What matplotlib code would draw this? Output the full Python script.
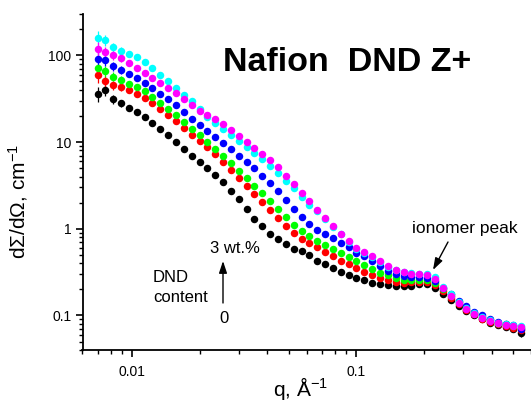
import matplotlib
matplotlib.use("Agg")
import matplotlib.pyplot as plt
from matplotlib.ticker import FixedLocator, FixedFormatter, NullFormatter, LogLocator
import numpy as np

plt.rcParams['font.family'] = ['Liberation Sans', 'DejaVu Sans']
plt.rcParams['mathtext.fontset'] = 'custom'
plt.rcParams['mathtext.rm'] = 'Liberation Sans'
plt.rcParams['mathtext.it'] = 'Liberation Sans'

# ---- data ----
q = [0.00700, 0.00759, 0.00822, 0.00891, 0.00966, 0.01047, 0.01135, 0.01230, 0.01334, 0.01445,
     0.01567, 0.01698, 0.01841, 0.01995, 0.02163, 0.02344, 0.02541, 0.02754, 0.02985, 0.03236,
     0.03508, 0.03802, 0.04121, 0.04467, 0.04842, 0.05248, 0.05689, 0.06166, 0.06683, 0.07244,
     0.07852, 0.08511, 0.09226, 0.1000, 0.1084, 0.1175, 0.1274, 0.1380, 0.1496, 0.1622,
     0.1758, 0.1905, 0.2065, 0.2239, 0.2427, 0.2630, 0.2851, 0.3090, 0.3350, 0.3631,
     0.3936, 0.4266, 0.4624, 0.5012, 0.5433]

I_0wt = [36, 40, 31, 28, 24.5, 22, 19.5, 16.8, 14.2, 12.0,
         10.0, 8.3, 7.0, 5.9, 5.0, 4.2, 3.5, 2.75, 2.2, 1.7,
         1.3, 1.07, 0.88, 0.76, 0.66, 0.58, 0.55, 0.50, 0.43, 0.39,
         0.35, 0.32, 0.29, 0.27, 0.255, 0.24, 0.23, 0.222, 0.218, 0.216,
         0.22, 0.228, 0.23, 0.21, 0.178, 0.15, 0.13, 0.113, 0.10, 0.09,
         0.082, 0.077, 0.073, 0.07, 0.062]

I_red = [60, 50, 45, 43, 40, 36, 32, 28, 24, 20.5,
         17.5, 14.5, 12.2, 10.3, 8.7, 7.2, 5.9, 4.8, 3.9, 3.1,
         2.55, 2.05, 1.65, 1.32, 1.08, 0.9, 0.77, 0.68, 0.61, 0.54,
         0.48, 0.43, 0.39, 0.35, 0.32, 0.295, 0.272, 0.257, 0.245, 0.24,
         0.242, 0.245, 0.243, 0.222, 0.19, 0.16, 0.135, 0.117, 0.103, 0.092,
         0.084, 0.079, 0.075, 0.072, 0.068]

I_green = [72, 66, 57, 52, 47, 43, 38.5, 33, 28, 24,
           20.5, 17, 14.3, 12.0, 10.0, 8.3, 6.9, 5.7, 4.7, 3.85,
           3.15, 2.6, 2.1, 1.7, 1.38, 1.12, 0.95, 0.82, 0.73, 0.65,
           0.58, 0.52, 0.47, 0.42, 0.38, 0.345, 0.31, 0.29, 0.27, 0.26,
           0.26, 0.26, 0.257, 0.235, 0.2, 0.168, 0.142, 0.123, 0.108, 0.097,
           0.089, 0.083, 0.079, 0.076, 0.072]

I_blue = [92, 88, 75, 68, 61, 55, 48, 42, 36, 31,
          27, 22, 18.5, 15.8, 13.5, 11.5, 9.8, 8.3, 7.0, 5.9,
          5.0, 4.1, 3.35, 2.7, 2.15, 1.7, 1.38, 1.15, 0.98, 0.86,
          0.78, 0.69, 0.61, 0.53, 0.48, 0.43, 0.37, 0.33, 0.30, 0.285,
          0.278, 0.276, 0.27, 0.25, 0.21, 0.175, 0.148, 0.127, 0.111, 0.10,
          0.091, 0.085, 0.08, 0.077, 0.07]

I_cyan = [160, 150, 125, 113, 104, 95, 84, 72, 60, 50,
          42, 35, 29.5, 24, 19.5, 16.5, 14.2, 12.0, 10.2, 8.7,
          7.4, 6.3, 5.3, 4.4, 3.6, 2.95, 2.3, 1.9, 1.6, 1.3,
          1.06, 0.86, 0.71, 0.59, 0.52, 0.47, 0.41, 0.365, 0.335, 0.315,
          0.31, 0.305, 0.30, 0.275, 0.215, 0.175, 0.145, 0.123, 0.108, 0.097,
          0.089, 0.083, 0.079, 0.077, 0.075]

I_magenta = [118, 110, 100, 93, 82, 72, 63, 55, 48, 42,
             36.5, 31, 26.5, 23, 20.5, 18.3, 16, 13.7, 11.8, 10.0,
             8.6, 7.3, 6.2, 5.1, 4.1, 3.3, 2.6, 2.1, 1.65, 1.33,
             1.08, 0.88, 0.72, 0.6, 0.54, 0.48, 0.42, 0.37, 0.335, 0.315,
             0.305, 0.30, 0.29, 0.262, 0.205, 0.168, 0.138, 0.118, 0.104, 0.094,
             0.086, 0.081, 0.077, 0.075, 0.074]

rel_err = [0.2, 0.15, 0.12, 0.1, 0.08, 0.07, 0.06, 0.05, 0.05, 0.04,
           0.04, 0.04, 0.03, 0.03, 0.03, 0.03, 0.03, 0.03, 0.03, 0.03,
           0.03, 0.03, 0.03, 0.03, 0.03, 0.03, 0.03, 0.06, 0.03, 0.03,
           0.03, 0.03, 0.03, 0.03, 0.03, 0.03, 0.03, 0.03, 0.03, 0.03,
           0.03, 0.03, 0.03, 0.03, 0.03, 0.03, 0.04, 0.04, 0.04, 0.05,
           0.05, 0.06, 0.06, 0.07, 0.08]

series = [("0 wt.%", I_0wt, "#000000"),
          ("red", I_red, "#ff0000"),
          ("green", I_green, "#00ff00"),
          ("blue", I_blue, "#0000ff"),
          ("cyan", I_cyan, "#00ffff"),
          ("magenta", I_magenta, "#ff00ff")]

ytick_vals = [0.1, 1, 10, 100]
ytick_labels = ["0.1", "1", "10", "100"]
xtick_vals = [0.01, 0.1]
xtick_labels = ["0.01", "0.1"]

W, H = 531, 409
fig = plt.figure(figsize=(W / 100, H / 100), dpi=100)
ax = fig.add_axes([82.5 / W, 59 / H, (531 - 82.5) / W, 336 / H])

qa = np.array(q)
err = np.array(rel_err)
for name, vals, col in series:
    v = np.array(vals)
    ax.errorbar(qa, v, yerr=v * err, fmt='o', color=col, ms=5.4, mew=0,
                elinewidth=0.9, capsize=2.8, capthick=0.9)

ax.set_xscale('log')
ax.set_yscale('log')
ax.set_xlim(0.006, 0.6)
ax.set_ylim(0.04, 300)

for s in ['top', 'right']:
    ax.spines[s].set_visible(False)
for s in ['left', 'bottom']:
    ax.spines[s].set_linewidth(1.3)

ax.yaxis.set_major_locator(FixedLocator(ytick_vals))
ax.yaxis.set_major_formatter(FixedFormatter(ytick_labels))
ax.yaxis.set_minor_locator(LogLocator(base=10, subs=np.arange(2, 10)))
ax.yaxis.set_minor_formatter(NullFormatter())
ax.xaxis.set_major_locator(FixedLocator(xtick_vals))
ax.xaxis.set_major_formatter(FixedFormatter(xtick_labels))
ax.xaxis.set_minor_locator(LogLocator(base=10, subs=np.arange(2, 10)))
ax.xaxis.set_minor_formatter(NullFormatter())
ax.tick_params(which='major', direction='out', length=5, width=1.2, labelsize=10, pad=3)
ax.tick_params(which='minor', direction='out', length=3, width=1.0)
ax.tick_params(axis='x', which='major', pad=6)


def fp(x, y):
    return (x / W, 1 - y / H)


fig.text(*fp(223, 71), "Nafion  DND Z+", fontsize=24.5, fontweight='bold', va='baseline', ha='left')
fig.text(*fp(18, 201), r"d$\Sigma$/d$\Omega$, cm$^{-1}$", fontsize=15, rotation=90, ha='center', va='center')
fig.text(*fp(301, 396), r"q, Å$^{-1}$", fontsize=15, ha='center', va='baseline')
fig.text(*fp(412, 233), "ionomer peak", fontsize=12.5, ha='left', va='baseline')
fig.text(*fp(210, 253), "3 wt.%", fontsize=12, ha='left', va='baseline')
fig.text(*fp(153, 282), "DND", fontsize=12, ha='left', va='baseline')
fig.text(*fp(153, 302), "content", fontsize=12, ha='left', va='baseline')
fig.text(*fp(219, 323), "0", fontsize=12, ha='left', va='baseline')

ap = dict(arrowstyle='-|>,head_length=0.6,head_width=0.2', color='black', lw=1.0,
          mutation_scale=12, shrinkA=0, shrinkB=0)
ax.annotate("", xy=fp(433, 270), xytext=fp(448, 242), xycoords='figure fraction',
            textcoords='figure fraction', arrowprops=ap)
ax.annotate("", xy=fp(223, 261), xytext=fp(223, 303), xycoords='figure fraction',
            textcoords='figure fraction', arrowprops=ap)

fig.savefig("out.png", dpi=100)
